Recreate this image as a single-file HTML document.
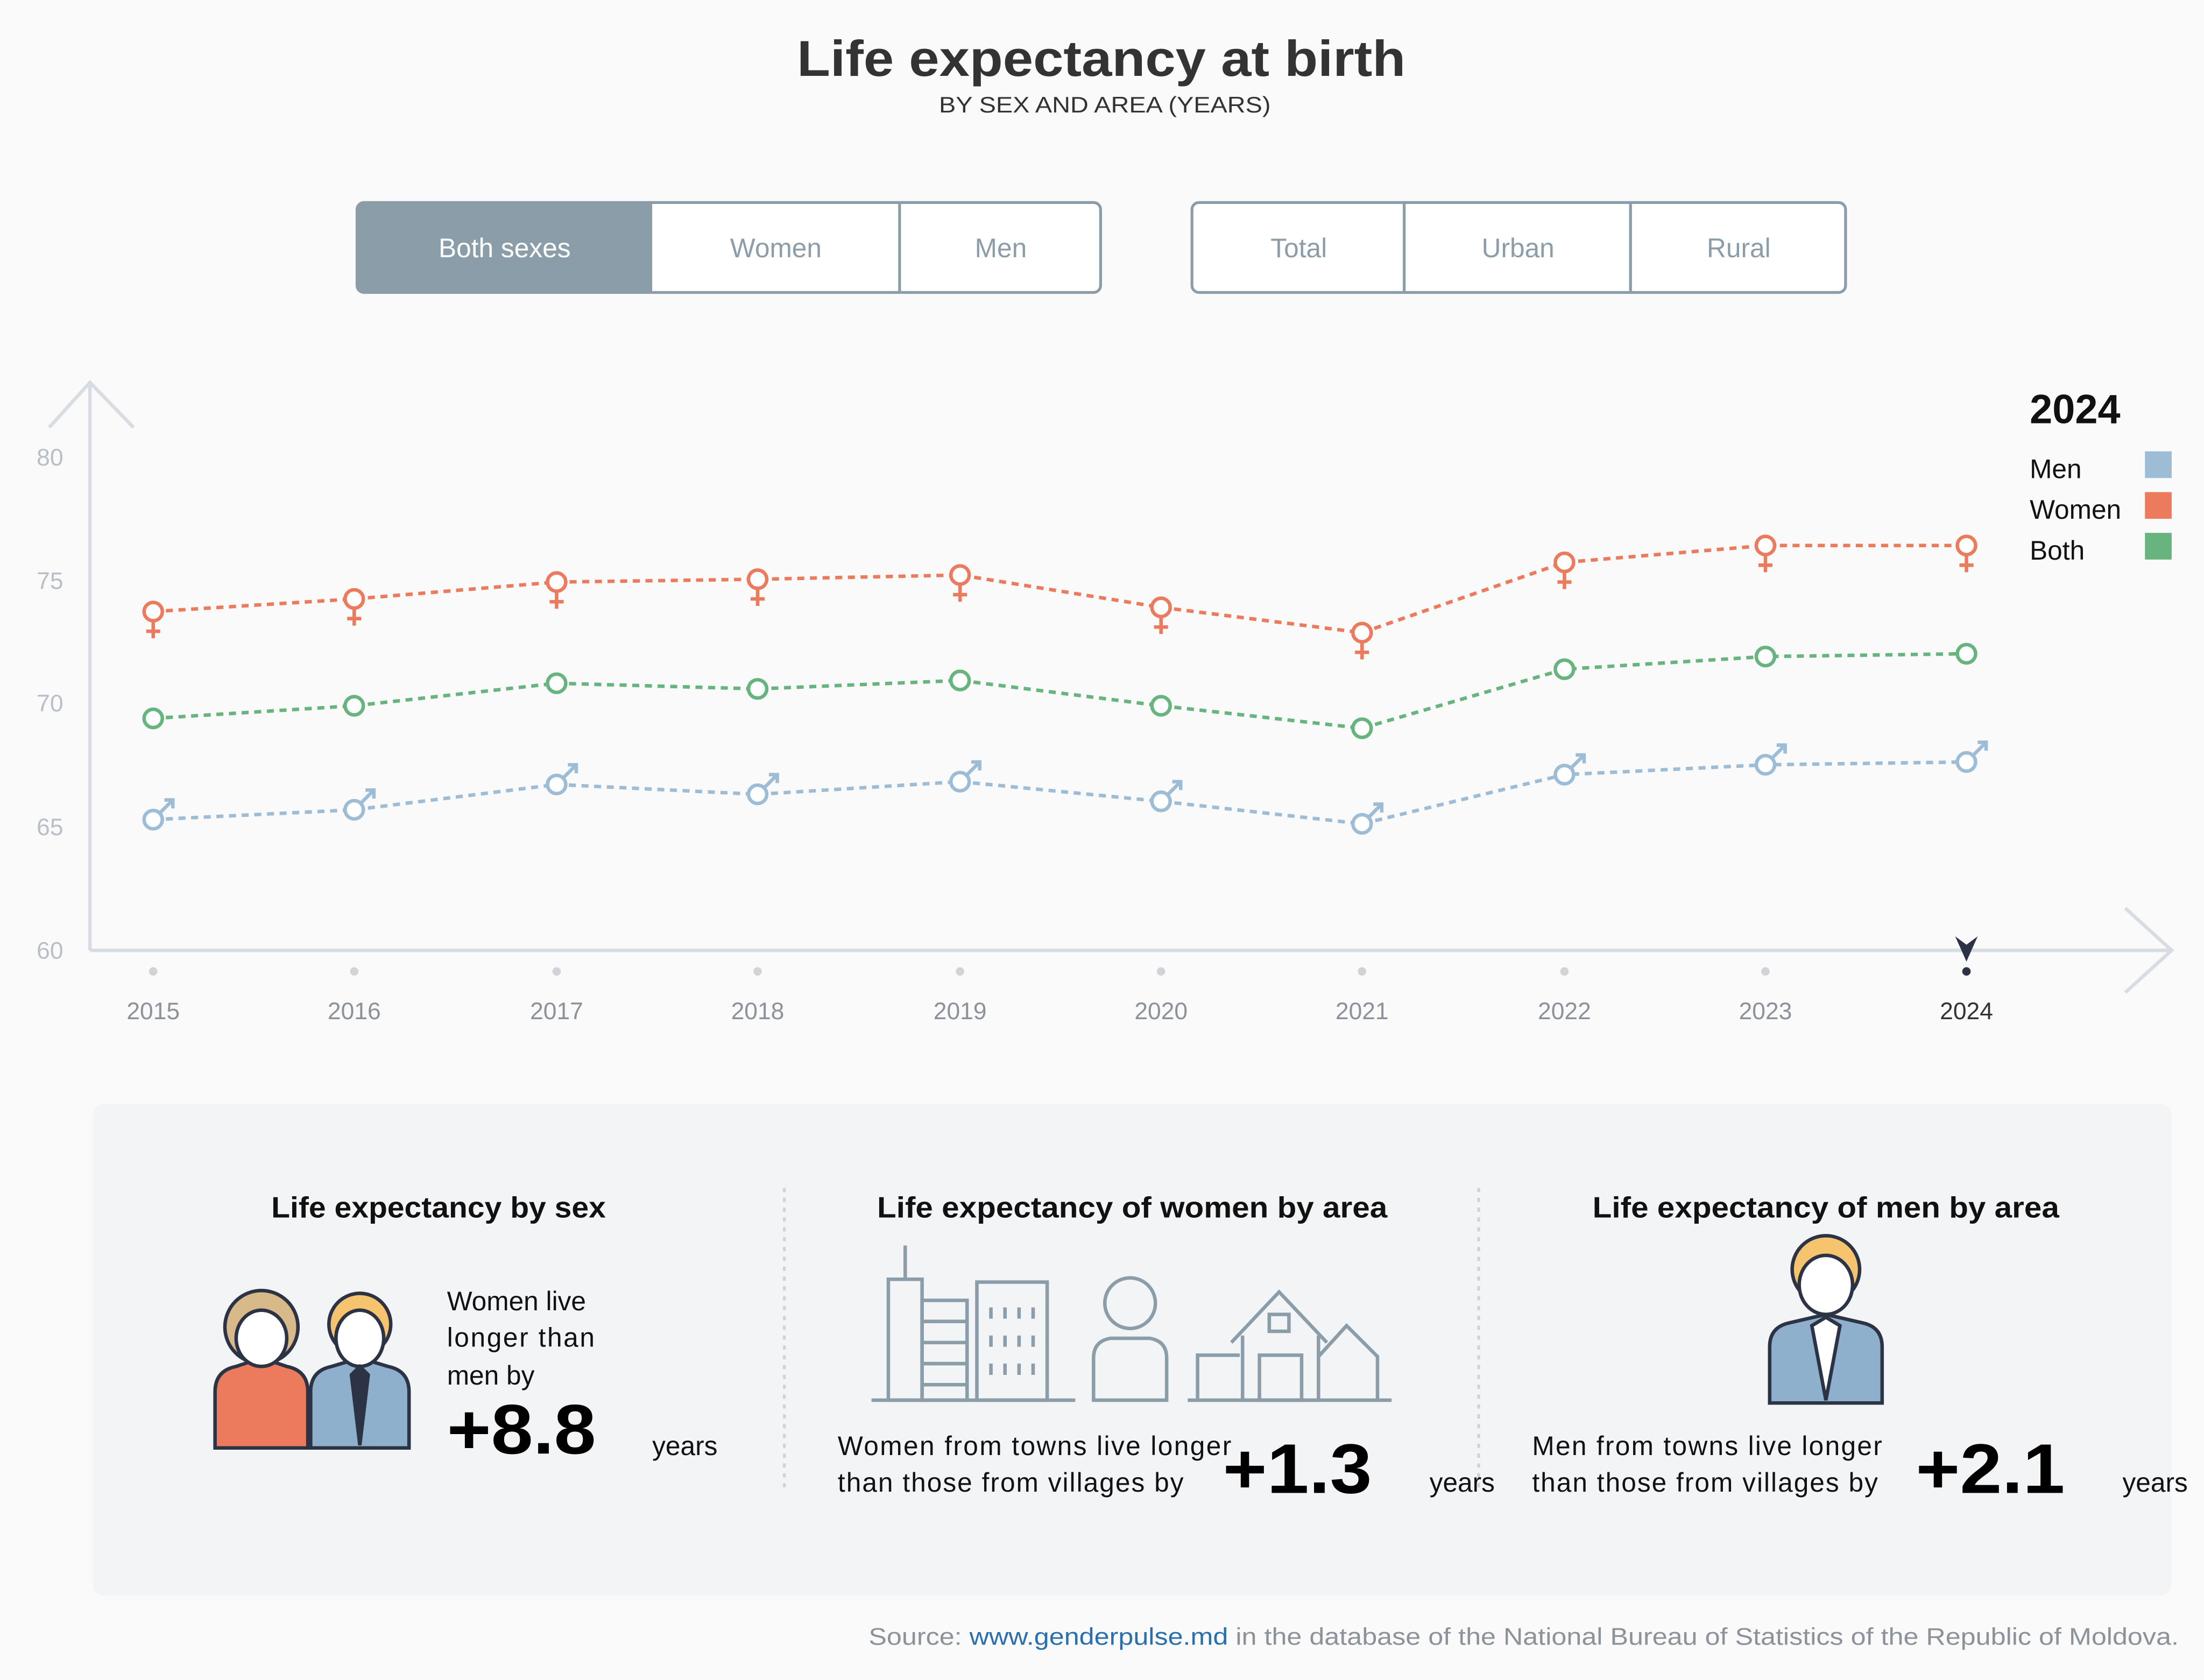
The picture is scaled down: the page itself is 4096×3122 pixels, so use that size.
<!DOCTYPE html>
<html><head><meta charset="utf-8"><style>
html,body{margin:0;padding:0;background:#fafafa}
svg{display:block}
text{font-family:"Liberation Sans","DejaVu Sans",sans-serif}
</style></head><body>
<svg width="4096" height="3122" viewBox="0 0 1568 1195" xmlns="http://www.w3.org/2000/svg">
<rect width="1568" height="1195" fill="#fafafa"/>
<text x="567" y="54" textLength="433" lengthAdjust="spacingAndGlyphs" font-size="36" font-weight="bold" fill="#333">Life expectancy at birth</text>
<text x="668" y="80" textLength="236" lengthAdjust="spacingAndGlyphs" font-size="16" fill="#333">BY SEX AND AREA (YEARS)</text>
<!-- buttons -->
<rect x="254" y="144" width="529" height="64" rx="5" fill="#fff" stroke="#8c9daa" stroke-width="2"/>
<path d="M259 144 H464 V208 H259 a5 5 0 0 1 -5 -5 V149 a5 5 0 0 1 5 -5z" fill="#8c9daa"/>
<line x1="640" y1="144" x2="640" y2="208" stroke="#8c9daa" stroke-width="2"/>
<text x="359" y="183" text-anchor="middle" font-size="19" fill="#fff">Both sexes</text>
<text x="552" y="183" text-anchor="middle" font-size="19" fill="#8c9daa">Women</text>
<text x="712" y="183" text-anchor="middle" font-size="19" fill="#8c9daa">Men</text>
<rect x="848" y="144" width="465" height="64" rx="5" fill="#fff" stroke="#8c9daa" stroke-width="2"/>
<line x1="999" y1="144" x2="999" y2="208" stroke="#8c9daa" stroke-width="2"/>
<line x1="1160" y1="144" x2="1160" y2="208" stroke="#8c9daa" stroke-width="2"/>
<text x="924" y="183" text-anchor="middle" font-size="19" fill="#8c9daa">Total</text>
<text x="1080" y="183" text-anchor="middle" font-size="19" fill="#8c9daa">Urban</text>
<text x="1237" y="183" text-anchor="middle" font-size="19" fill="#8c9daa">Rural</text>
<!-- axes -->
<g stroke="#d8dde3" stroke-width="2.5" fill="none">
<line x1="64" y1="272" x2="64" y2="676"/>
<polyline points="35,304 64,272 95,304"/>
<line x1="64" y1="676" x2="1545" y2="676"/>
<polyline points="1512,646 1545,676 1512,706"/>
</g>
<g font-size="17" fill="#b8bfc7" text-anchor="end">
<text x="45" y="331">80</text><text x="45" y="419">75</text><text x="45" y="506">70</text><text x="45" y="594">65</text><text x="45" y="682">60</text>
</g>
<g font-size="17" fill="#8c9299" text-anchor="middle">
<text x="109" y="725">2015</text><text x="252" y="725">2016</text><text x="396" y="725">2017</text><text x="539" y="725">2018</text><text x="683" y="725">2019</text><text x="826" y="725">2020</text><text x="969" y="725">2021</text><text x="1113" y="725">2022</text><text x="1256" y="725">2023</text><text x="1399" y="725" fill="#333">2024</text>
</g>
<g fill="#d0d4d9"><circle cx="109" cy="691" r="3"/><circle cx="252" cy="691" r="3"/><circle cx="396" cy="691" r="3"/><circle cx="539" cy="691" r="3"/><circle cx="683" cy="691" r="3"/><circle cx="826" cy="691" r="3"/><circle cx="969" cy="691" r="3"/><circle cx="1113" cy="691" r="3"/><circle cx="1256" cy="691" r="3"/></g>
<circle cx="1399" cy="691" r="3" fill="#2c3345"/>
<path d="M1391 666 L1399 684 L1407 666 L1399 672z" fill="#2c3345"/>
<!-- series -->
<g fill="none" stroke-width="2.5" stroke-dasharray="5,4">
<polyline stroke="#ec7a5c" points="109,435 252,426 396,414 539,412 683,409 826,432 969,450 1113,400 1256,388 1399,388"/>
<polyline stroke="#67b47e" points="109,511 252,502 396,486 539,490 683,484 826,502 969,518 1113,476 1256,467 1399,465"/>
<polyline stroke="#9dbcd6" points="109,583 252,576 396,558 539,565 683,556 826,570 969,586 1113,551 1256,544 1399,542"/>
</g>
<g fill="#fff" stroke-width="2.5">
<g stroke="#ec7a5c">
<circle cx="109" cy="435" r="6.5"/><circle cx="252" cy="426" r="6.5"/><circle cx="396" cy="414" r="6.5"/><circle cx="539" cy="412" r="6.5"/><circle cx="683" cy="409" r="6.5"/><circle cx="826" cy="432" r="6.5"/><circle cx="969" cy="450" r="6.5"/><circle cx="1113" cy="400" r="6.5"/><circle cx="1256" cy="388" r="6.5"/><circle cx="1399" cy="388" r="6.5"/>
<path fill="none" d="M109 442v12m-5 -5h10 M252 433v12m-5 -5h10 M396 421v12m-5 -5h10 M539 419v12m-5 -5h10 M683 416v12m-5 -5h10 M826 439v12m-5 -5h10 M969 457v12m-5 -5h10 M1113 407v12m-5 -5h10 M1256 395v12m-5 -5h10 M1399 395v12m-5 -5h10"/>
</g>
<g stroke="#67b47e">
<circle cx="109" cy="511" r="6.5"/><circle cx="252" cy="502" r="6.5"/><circle cx="396" cy="486" r="6.5"/><circle cx="539" cy="490" r="6.5"/><circle cx="683" cy="484" r="6.5"/><circle cx="826" cy="502" r="6.5"/><circle cx="969" cy="518" r="6.5"/><circle cx="1113" cy="476" r="6.5"/><circle cx="1256" cy="467" r="6.5"/><circle cx="1399" cy="465" r="6.5"/>
</g>
<g stroke="#9dbcd6">
<circle cx="109" cy="583" r="6.5"/><circle cx="252" cy="576" r="6.5"/><circle cx="396" cy="558" r="6.5"/><circle cx="539" cy="565" r="6.5"/><circle cx="683" cy="556" r="6.5"/><circle cx="826" cy="570" r="6.5"/><circle cx="969" cy="586" r="6.5"/><circle cx="1113" cy="551" r="6.5"/><circle cx="1256" cy="544" r="6.5"/><circle cx="1399" cy="542" r="6.5"/>
<path fill="none" d="M114 578l9-9m-6 0h6v6 M257 571l9-9m-6 0h6v6 M401 553l9-9m-6 0h6v6 M544 560l9-9m-6 0h6v6 M688 551l9-9m-6 0h6v6 M831 565l9-9m-6 0h6v6 M974 581l9-9m-6 0h6v6 M1118 546l9-9m-6 0h6v6 M1261 539l9-9m-6 0h6v6 M1404 537l9-9m-6 0h6v6"/>
</g>
</g>
<!-- legend -->
<text x="1444" y="301" font-size="29" font-weight="bold" fill="#111">2024</text>
<g font-size="19" fill="#111"><text x="1444" y="340">Men</text><text x="1444" y="369">Women</text><text x="1444" y="398">Both</text></g>
<rect x="1526" y="321" width="19" height="19" fill="#9dbcd6"/><rect x="1526" y="350" width="19" height="19" fill="#ec7a5c"/><rect x="1526" y="379" width="19" height="19" fill="#67b47e"/>
<!-- bottom panel -->
<rect x="66" y="785" width="1479" height="350" rx="8" fill="#f3f4f6"/>
<g stroke="#cfd3d8" stroke-width="2" stroke-dasharray="3,4"><line x1="558" y1="845" x2="558" y2="1062"/><line x1="1052" y1="845" x2="1052" y2="1062"/></g>
<g font-size="21" font-weight="bold" fill="#111">
<text x="193" y="866" textLength="238" lengthAdjust="spacingAndGlyphs">Life expectancy by sex</text>
<text x="624" y="866" textLength="363" lengthAdjust="spacingAndGlyphs">Life expectancy of women by area</text>
<text x="1133" y="866" textLength="332" lengthAdjust="spacingAndGlyphs">Life expectancy of men by area</text>
</g>
<g font-size="19" fill="#111">
<text x="318" y="932">Women live</text><text x="318" y="958" textLength="105">longer than</text><text x="318" y="985">men by</text>
<text x="464" y="1035">years</text>
<text x="596" y="1035" textLength="280">Women from towns live longer</text><text x="596" y="1061" textLength="246">than those from villages by</text>
<text x="1017" y="1061">years</text>
<text x="1090" y="1035" textLength="249">Men from towns live longer</text><text x="1090" y="1061" textLength="246">than those from villages by</text>
<text x="1510" y="1061">years</text>
</g>
<g font-size="50" font-weight="bold" fill="#000">
<text x="318" y="1034" textLength="106" lengthAdjust="spacingAndGlyphs">+8.8</text><text x="870" y="1062" textLength="106" lengthAdjust="spacingAndGlyphs">+1.3</text><text x="1363" y="1062" textLength="106" lengthAdjust="spacingAndGlyphs">+2.1</text>
</g>
<!-- icons: couple -->
<g stroke="#2c3345" stroke-width="2.5">
<path d="M153 1030v-40q0-15 15-18l18-6 18 6q15 3 15 18v40z" fill="#ec7a5c"/>
<circle cx="186" cy="944" r="26" fill="#d8b98a"/><ellipse cx="186" cy="952" rx="18" ry="20" fill="#fff"/>
<path d="M221 1030v-40q0-15 15-18l20-6 20 6q15 3 15 18v40z" fill="#8fb0cc"/>
<circle cx="256" cy="942" r="22" fill="#f6c46e"/><ellipse cx="256" cy="952" rx="17" ry="20" fill="#fff"/>
<path d="M256 972l-6 6 6 50 6-50z" fill="#2c3345"/>
</g>
<!-- city icon -->
<g stroke="#8c9daa" stroke-width="2.5" fill="none">
<line x1="620" y1="996" x2="765" y2="996"/><rect x="632" y="910" width="24" height="86"/><line x1="644" y1="886" x2="644" y2="910"/>
<rect x="656" y="925" width="32" height="71"/><rect x="695" y="912" width="50" height="84"/>
<path d="M656 940h32M656 955h32M656 970h32M656 985h32"/>
<path d="M705 930v8M715 930v8M725 930v8M735 930v8M705 950v8M715 950v8M725 950v8M735 950v8M705 970v8M715 970v8M725 970v8M735 970v8"/>
<circle cx="804" cy="927" r="18"/><path d="M778 996v-30q0-12 12-14h28q12 2 12 14v30z"/>
<line x1="845" y1="996" x2="990" y2="996"/><path d="M852 996v-32h30M876 955l34-36 34 36M884 950v46h54v-46M938 965l20-22 22 22v31"/><rect x="896" y="964" width="30" height="32"/><rect x="903" y="935" width="14" height="12"/>
</g>
<!-- man icon -->
<g stroke="#2c3345" stroke-width="2.5">
<path d="M1259 998v-40q0-14 14-17l26-6 26 6q14 3 14 17v40z" fill="#8fb0cc"/>
<path d="M1299 937l-10 6 10 53 10-53z" fill="#fff"/>
<circle cx="1299" cy="903" r="24" fill="#f6c46e"/><ellipse cx="1299" cy="914" rx="19" ry="21" fill="#fff"/>
</g>
<text x="618" y="1170" textLength="932" lengthAdjust="spacingAndGlyphs" font-size="17" fill="#8c9299">Source: <tspan fill="#2a6fad">www.genderpulse.md</tspan> in the database of the National Bureau of Statistics of the Republic of Moldova.</text>
</svg>
</body></html>
